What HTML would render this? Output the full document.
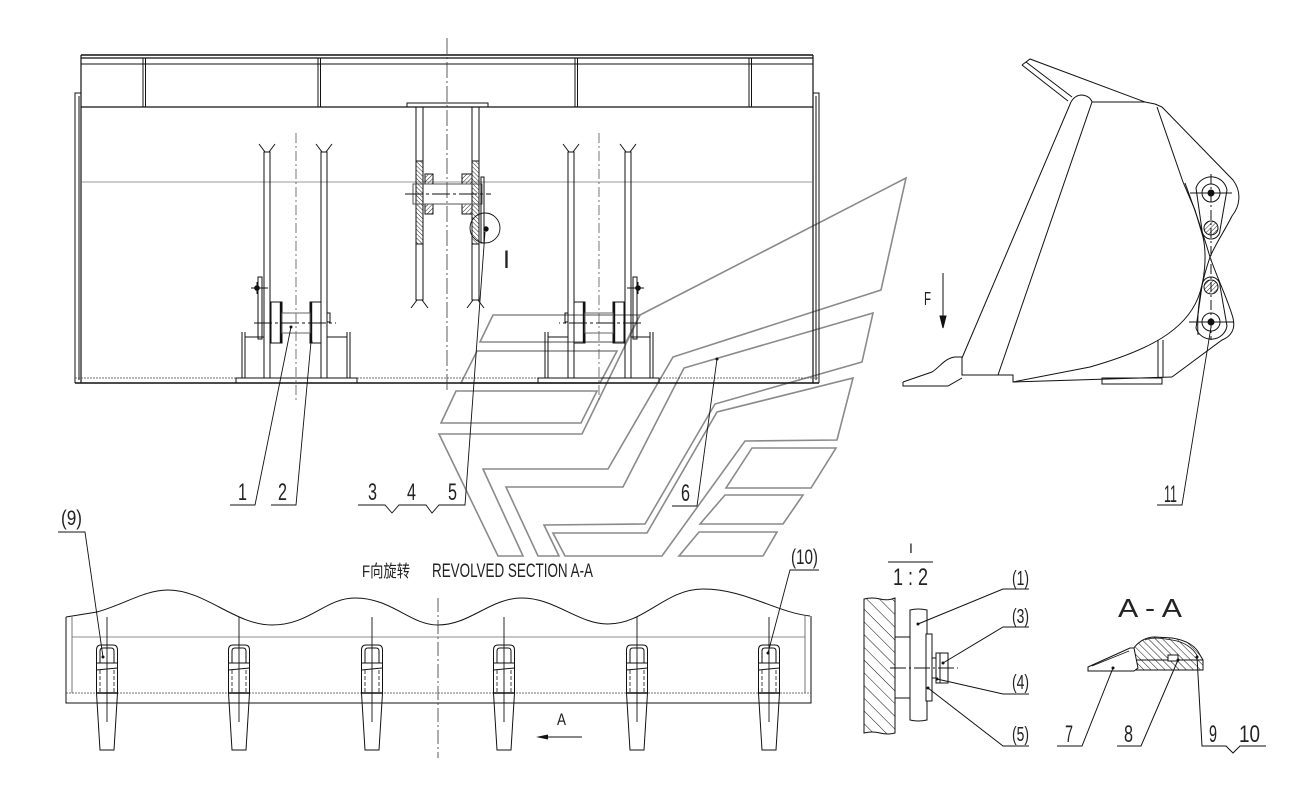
<!DOCTYPE html>
<html><head><meta charset="utf-8"><style>
html,body{margin:0;padding:0;background:#fff;}
svg{display:block}
text{font-family:"Liberation Sans","Noto Sans CJK SC",sans-serif;fill:#222;}
</style></head><body>
<svg width="1306" height="793" viewBox="0 0 1306 793" xmlns="http://www.w3.org/2000/svg">
<defs>
<pattern id="hb" patternUnits="userSpaceOnUse" width="3" height="3" patternTransform="rotate(-45)"><line x1="0" y1="0" x2="0" y2="3" stroke="#111" stroke-width="0.9"/></pattern>
<pattern id="hf" patternUnits="userSpaceOnUse" width="3" height="3" patternTransform="rotate(45)"><line x1="0" y1="0" x2="0" y2="3" stroke="#111" stroke-width="0.9"/></pattern>
<pattern id="hw" patternUnits="userSpaceOnUse" width="9" height="9" patternTransform="rotate(-45)"><line x1="0" y1="0" x2="0" y2="9" stroke="#111" stroke-width="1"/></pattern>
<pattern id="ha" patternUnits="userSpaceOnUse" width="5" height="5" patternTransform="rotate(-45)"><line x1="0" y1="0" x2="0" y2="5" stroke="#111" stroke-width="1"/></pattern>
</defs>
<rect width="1306" height="793" fill="#fff"/>

<!-- watermark logo -->
<g fill="none" stroke="#8a8a8a" stroke-width="1.6" stroke-linejoin="miter">
<polygon points="493,315 640,315 626,342 480,342"/>
<polygon points="477,351 617,351 600,383 461,383"/>
<polygon points="456,391 597,391 581,423 441,423"/>
<polygon points="640,315 906,178 881,290 673,357 608,469 483,469 523,556 498,556 439,434 582,434"/>
<polygon points="506,487 623,487 684,368 873,313 862,362 715,404 645,524 544,525 559,556 538,556"/>
<polygon points="553,533 647,533 717,412 853,378 837,440 745,441 662,556 565,556"/>
<polygon points="752,448 836,448 811,488 726,488"/>
<polygon points="725,495 803,495 783,524 700,524"/>
<polygon points="699,532 777,532 763,556 679,556"/>
</g>

<!-- FRONT VIEW -->
<g fill="none" stroke="#111" stroke-width="1">
<line x1="81" y1="55" x2="813" y2="55" stroke-width="1.4"/>
<line x1="81" y1="58" x2="813" y2="58" stroke-width="1.2"/>
<line x1="81" y1="64" x2="813" y2="64"/>
<line x1="81" y1="107" x2="813" y2="107" stroke-width="1.3"/>
<line x1="81" y1="55" x2="81" y2="383" stroke-width="1.2"/>
<line x1="813" y1="55" x2="813" y2="383" stroke-width="1.2"/>
<line x1="143" y1="58" x2="143" y2="107"/><line x1="145.5" y1="58" x2="145.5" y2="107"/>
<line x1="318" y1="58" x2="318" y2="107"/><line x1="320.5" y1="58" x2="320.5" y2="107"/>
<line x1="575" y1="58" x2="575" y2="107"/><line x1="577.5" y1="58" x2="577.5" y2="107"/>
<line x1="749" y1="58" x2="749" y2="107"/><line x1="751.5" y1="58" x2="751.5" y2="107"/>
<path d="M81,93 H75 V383 M79,96 V380"/>
<path d="M813,93 H819 V383 M816,96 V380"/>
<line x1="81" y1="182" x2="813" y2="182" stroke="#777" stroke-width="0.8"/>
<line x1="75" y1="378" x2="819" y2="378" stroke="#444" stroke-width="0.8" stroke-dasharray="2,1"/>
<line x1="75" y1="383" x2="819" y2="383" stroke-width="1.4"/>
<line x1="447" y1="38" x2="447" y2="392" stroke="#333" stroke-width="0.8" stroke-dasharray="16,3,2,3"/>
</g>

<!-- left lifting assembly -->
<g id="asm" fill="none" stroke="#111" stroke-width="1">
<rect x="264" y="152" width="6" height="226"/>
<path d="M259,144 L265,152 M275,144 L269,152"/>
<rect x="321" y="152" width="6" height="226"/>
<path d="M316,144 L322,152 M332,144 L326,152"/>
<line x1="296" y1="133" x2="296" y2="402" stroke="#555" stroke-width="0.8" stroke-dasharray="10,3,2,3"/>
<rect x="271" y="302" width="11" height="41"/>
<line x1="281" y1="302" x2="281" y2="343" stroke-width="2.4"/>
<rect x="310" y="302" width="11" height="41"/>
<line x1="311" y1="302" x2="311" y2="343" stroke-width="2.4"/>
<rect x="282" y="313" width="28" height="20" stroke="#666"/>
<line x1="254" y1="323" x2="336" y2="323" stroke-dasharray="18,3,3,3"/>
<rect x="258" y="277" width="4" height="62"/>
<path d="M251,288 H268 M257,282 V294"/>
<circle cx="257" cy="288" r="2.3" fill="#111"/>
<rect x="327" y="313" width="3" height="9"/>
<path d="M242,332 V378 M245,332 V378 M347,332 V378 M350,332 V378"/>
<path d="M245,337 H264 M327,337 H347"/>
<rect x="236" y="378" width="121" height="5"/>
</g>
<use href="#asm" transform="matrix(-1 0 0 1 895 0)"/>

<!-- central assembly -->
<g fill="none" stroke="#111" stroke-width="1">
<rect x="407" y="103" width="81" height="4"/>
<rect x="416" y="107" width="7" height="193"/>
<rect x="472" y="107" width="7" height="193"/>
<path d="M411,308 L417,300 M428,308 L422,300 M467,308 L473,300 M484,308 L478,300"/>
<rect x="416" y="161" width="7" height="83" fill="url(#hb)"/>
<rect x="472" y="161" width="7" height="83" fill="url(#hb)"/>
<rect x="425" y="174" width="8" height="10" fill="url(#hf)"/>
<rect x="425" y="204" width="8" height="10" fill="url(#hf)"/>
<rect x="462" y="174" width="10" height="10" fill="url(#hf)"/>
<rect x="462" y="204" width="10" height="10" fill="url(#hf)"/>
<rect x="413" y="184" width="69" height="20" stroke="#555"/>
<line x1="405" y1="194" x2="491" y2="194" stroke-dasharray="18,3,3,3"/>
<rect x="481" y="177" width="3" height="66"/>
<circle cx="485" cy="228" r="15" stroke-width="0.9"/>
<circle cx="486" cy="229" r="2.2" fill="#111"/>
</g>
<text x="503" y="268" font-size="25">I</text>

<!-- leaders front view -->
<g fill="none" stroke="#111" stroke-width="0.9">
<path d="M291,327 L255,505 H230"/>
<path d="M311,342 L296,505 H271"/>
<path d="M485,232 L465,505 H439 L432,513 L426,505 H399 L392,513 L385,505 H358"/>
<path d="M717,359 L697,506 H672"/>
</g>
<circle cx="291" cy="327" r="1.5" fill="#111"/>
<circle cx="311" cy="342" r="1.5" fill="#111"/>
<circle cx="717" cy="359" r="1.5" fill="#111"/>
<text x="238" y="500" font-size="24" textLength="9" lengthAdjust="spacingAndGlyphs">1</text>
<text x="278" y="500" font-size="24" textLength="9" lengthAdjust="spacingAndGlyphs">2</text>
<text x="368" y="500" font-size="24" textLength="9" lengthAdjust="spacingAndGlyphs">3</text>
<text x="407" y="500" font-size="24" textLength="9" lengthAdjust="spacingAndGlyphs">4</text>
<text x="448" y="500" font-size="24" textLength="9" lengthAdjust="spacingAndGlyphs">5</text>
<text x="681" y="501" font-size="24" textLength="9" lengthAdjust="spacingAndGlyphs">6</text>

<!-- SIDE VIEW -->
<g fill="none" stroke="#111" stroke-width="1">
<path d="M1022,65 L1030,59 L1145,102 L1155,104 L1162,107"/>
<path d="M1022,65 L1068,101 M1026,62 L1072,97"/>
<path d="M1071,102 Q1075,95 1082,95 Q1090,96 1092,102 L1145,102"/>
<path d="M1071,102 L962,358"/>
<path d="M1092,102 L998,375"/>
<path d="M1157,107 L1183,182 L1195,210 L1203,237 C1207,255 1205,280 1198,298 C1185,330 1150,350 1090,367 L1013,382"/>
<path d="M1162,107 L1233,180 C1242,192 1240,206 1232,216 C1225,230 1215,245 1210,257 C1205,272 1196,300 1198,335"/>
<path d="M1185,183 C1195,210 1205,240 1210,257 C1218,280 1228,300 1233,318 C1236,330 1230,337 1222,340 L1172,377"/>
<path d="M1196,188 A16,16 0 0 1 1227,190 L1220,230 A9,9 0 0 1 1202,230 Z"/>
<path d="M1202,286 A9,9 0 0 1 1220,286 L1227,326 A16,16 0 0 1 1196,328 Z"/>
<circle cx="1211" cy="193" r="9"/>
<circle cx="1211" cy="193" r="3" fill="#111"/>
<circle cx="1211" cy="322" r="9"/>
<circle cx="1211" cy="322" r="3" fill="#111"/>
<circle cx="1211" cy="228" r="7" fill="url(#hf)"/>
<circle cx="1211" cy="287" r="7" fill="url(#hf)"/>
<line x1="1211" y1="174" x2="1211" y2="340" stroke-dasharray="10,3,2,3"/>
<path d="M1190,193 H1232 M1189,322 H1234"/>
<path d="M903,382 L932,372 C940,367 945,358 955,357 L962,357 L962,375 L1013,375 L1013,382 L1172,377"/>
<path d="M903,382 V386 H948 L962,378"/>
<rect x="1102" y="378" width="60" height="6"/>
<path d="M1158,340 V377 M1163,340 V377"/>
</g>
<g stroke="#111" stroke-width="1">
<line x1="943" y1="273" x2="943" y2="318"/>
<polygon points="943,328 940,316 946,316" fill="#111"/>
<path d="M1211,327 L1182,505 H1157" fill="none" stroke-width="0.9"/>
</g>
<text x="924" y="305" font-size="18" textLength="7" lengthAdjust="spacingAndGlyphs">F</text>
<text x="1164" y="502" font-size="24" textLength="13" lengthAdjust="spacingAndGlyphs">11</text>

<!-- REVOLVED SECTION -->
<text x="362" y="577" font-size="17" textLength="48" lengthAdjust="spacingAndGlyphs">F向旋转</text>
<text x="432" y="577" font-size="19" textLength="161" lengthAdjust="spacingAndGlyphs">REVOLVED SECTION A-A</text>
<g fill="none" stroke="#111" stroke-width="1">
<path d="M66,617 L97,612 C125,604 145,590 168,590 C205,590 235,625 272,625 C310,625 325,598 355,598 C392,598 410,625 438,625 C470,625 490,598 522,598 C555,598 578,624 608,624 C645,624 665,589 703,589 C745,589 775,612 810,616"/>
<path d="M66,617 V703 H811 V616"/>
<line x1="72" y1="617" x2="72" y2="693" stroke="#555" stroke-width="0.8"/>
<line x1="805" y1="616" x2="805" y2="693" stroke="#555" stroke-width="0.8"/>
<line x1="72" y1="637" x2="805" y2="637" stroke="#666" stroke-width="0.8"/>
<line x1="66" y1="693" x2="811" y2="693" stroke="#444" stroke-width="0.8" stroke-dasharray="2,1"/>
<line x1="438" y1="598" x2="438" y2="758" stroke="#333" stroke-width="0.8" stroke-dasharray="14,3,2,3"/>
</g>
<g id="tooth" fill="none" stroke="#111" stroke-width="1">
<path d="M96.5,693 V650 Q96.5,645 101,645 H113 Q117.5,645 117.5,650 V693"/>
<path d="M100,663 V651 Q100,648 103,648 H111 Q114,648 114,651 V663"/>
<path d="M96.5,663 H117.5 M96.5,670 L117.5,668"/>
<path d="M100,670 V693 M114,670 V693" stroke-dasharray="4,2" stroke-width="0.8"/>
<line x1="96.5" y1="693" x2="117.5" y2="693" stroke-width="1.6"/>
<polygon points="96.5,693 117.5,693 114,750 100,750"/>
<line x1="107" y1="617" x2="107" y2="722" stroke-width="0.9"/>
</g>
<use href="#tooth" transform="translate(132,0)"/>
<use href="#tooth" transform="translate(265,0)"/>
<use href="#tooth" transform="translate(397,0)"/>
<use href="#tooth" transform="translate(530,0)"/>
<use href="#tooth" transform="translate(662,0)"/>
<g stroke="#111" stroke-width="0.9" fill="none">
<path d="M58,532 H85 L103,657"/>
<path d="M819,570 H790 L768,653"/>
<line x1="547" y1="737" x2="582" y2="737"/>
</g>
<circle cx="103" cy="657" r="1.5" fill="#111"/>
<circle cx="768" cy="653" r="1.5" fill="#111"/>
<polygon points="536,737 548,734.5 548,739.5" fill="#111"/>
<text x="557" y="725" font-size="17" textLength="9" lengthAdjust="spacingAndGlyphs">A</text>
<text x="61" y="525" font-size="21" textLength="21" lengthAdjust="spacingAndGlyphs">(9)</text>
<text x="791" y="564" font-size="21" textLength="27" lengthAdjust="spacingAndGlyphs">(10)</text>

<!-- DETAIL I -->
<text x="909" y="553" font-size="14">I</text>
<line x1="888" y1="562" x2="933" y2="562" stroke="#111" stroke-width="1"/>
<text x="893" y="585" font-size="24" textLength="35" lengthAdjust="spacingAndGlyphs">1 : 2</text>
<g fill="none" stroke="#111" stroke-width="1">
<path d="M864,599 Q872,597 880,599 Q888,601 895,598 V733 Q888,735 880,733 Q872,731 864,733 Z" fill="url(#hw)"/>
<rect x="895" y="637" width="15" height="61" fill="#fff"/>
<path d="M910,610 Q918,608 927,610 V720 Q918,722 910,720 Z" fill="#fff"/>
<rect x="926" y="634" width="6" height="67" fill="#fff"/>
<rect x="932" y="658" width="4" height="20"/>
<rect x="936" y="653" width="12" height="30" fill="#fff"/>
<line x1="940" y1="653" x2="940" y2="683"/>
<line x1="890" y1="668" x2="958" y2="668" stroke-dasharray="16,3,2,3"/>
<path d="M1029,589 H1003 L918,624"/>
<path d="M1029,627 H1003 L943,663"/>
<path d="M1029,694 H1003 L937,679"/>
<path d="M1029,746 H1003 L928,688"/>
</g>
<circle cx="918" cy="624" r="1.5" fill="#111"/>
<circle cx="943" cy="663" r="1.5" fill="#111"/>
<circle cx="937" cy="679" r="1.5" fill="#111"/>
<circle cx="928" cy="688" r="1.5" fill="#111"/>
<text x="1012" y="585" font-size="20" textLength="17" lengthAdjust="spacingAndGlyphs">(1)</text>
<text x="1012" y="623" font-size="20" textLength="17" lengthAdjust="spacingAndGlyphs">(3)</text>
<text x="1012" y="689" font-size="20" textLength="17" lengthAdjust="spacingAndGlyphs">(4)</text>
<text x="1012" y="741" font-size="20" textLength="17" lengthAdjust="spacingAndGlyphs">(5)</text>

<!-- SECTION A-A -->
<text x="1118" y="617" font-size="26" textLength="64" lengthAdjust="spacingAndGlyphs">A - A</text>
<g fill="none" stroke="#111" stroke-width="1">
<path d="M1133,649 C1138,642 1145,637 1155,637 L1172,638 C1186,640 1196,646 1200,655 L1203,660 L1203,670 L1136,670 Z" fill="url(#ha)"/>
<path d="M1145,640 C1152,637 1160,638 1172,640 C1185,642 1193,648 1198,657" stroke-width="0.8"/>
<line x1="1136" y1="660" x2="1203" y2="660"/>
<rect x="1168" y="655" width="10" height="6" fill="#fff"/>
<path d="M1088,667 L1130,648 L1134,648 L1138,668 L1134,671 L1088,671 Z" fill="#fff"/>
<path d="M1092,666 L1129,651" stroke-width="0.7"/>
<path d="M1057,746 H1082 L1113,668"/>
<path d="M1117,746 H1141 L1178,660"/>
<path d="M1197,657 L1202,746 L1226,746 L1233,753 L1240,746 H1266"/>
</g>
<circle cx="1113" cy="668" r="1.5" fill="#111"/>
<circle cx="1178" cy="660" r="1.5" fill="#111"/>
<circle cx="1197" cy="657" r="1.5" fill="#111"/>
<text x="1065" y="742" font-size="24" textLength="8" lengthAdjust="spacingAndGlyphs">7</text>
<text x="1124" y="742" font-size="24" textLength="9" lengthAdjust="spacingAndGlyphs">8</text>
<text x="1209" y="742" font-size="24" textLength="8" lengthAdjust="spacingAndGlyphs">9</text>
<text x="1239" y="742" font-size="24" textLength="21" lengthAdjust="spacingAndGlyphs">10</text>
</svg>
</body></html>
